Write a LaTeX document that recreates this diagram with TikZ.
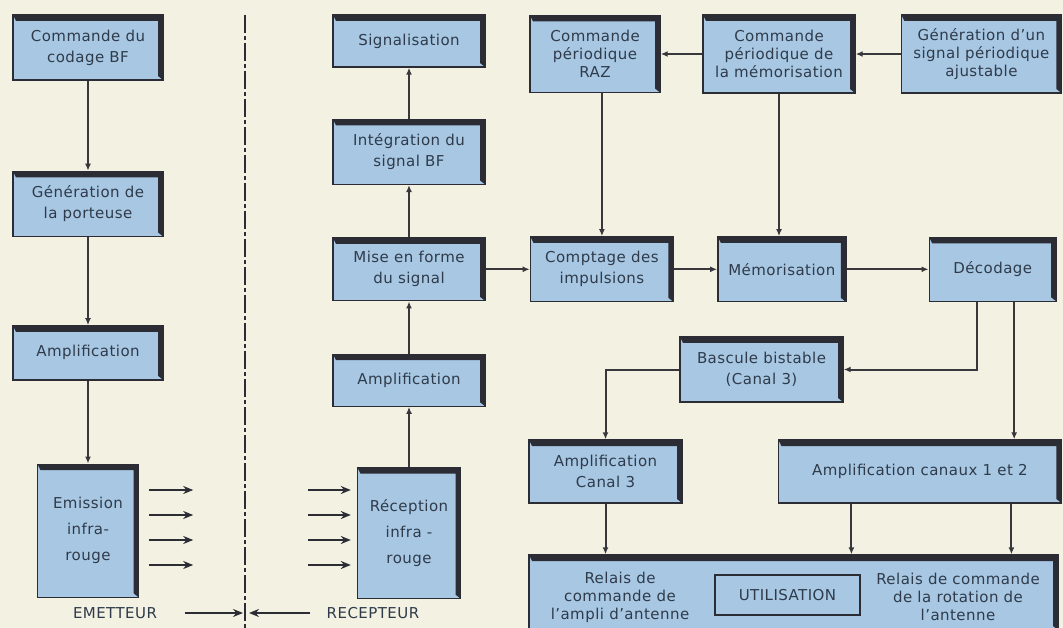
\documentclass[tikz,border=0pt]{standalone}
\usepackage{fontspec}
\setmainfont{DejaVu Sans}[LetterSpace=3]
\usepackage{xcolor}
\usetikzlibrary{arrows.meta,positioning}

\definecolor{papier}{HTML}{F2F1E2}
\definecolor{bleu}{HTML}{A7C7E3}
\definecolor{bord}{HTML}{2C2C34}
\definecolor{encre}{HTML}{2F3B4A}
\definecolor{trait}{HTML}{38383C}

\begin{document}
\begin{tikzpicture}[x=1pt,y=-1pt,node distance=50pt,
  bloc/.style={draw=bord,line width=1.4pt,fill=bleu,align=center,inner sep=2pt,
    text=encre,font=\fontsize{15}{21}\selectfont,
    path picture={
      \fill[bord] (path picture bounding box.north west)
        -- (path picture bounding box.north east)
        -- (path picture bounding box.south east)
        -- ([shift={(-5pt,4pt)}]path picture bounding box.south east)
        -- ([shift={(-5pt,-6pt)}]path picture bounding box.north east)
        -- ([shift={(3pt,-6pt)}]path picture bounding box.north west) -- cycle;}},
  serre/.style={font=\fontsize{15}{18}\selectfont},
  haut/.style={font=\fontsize{15}{26}\selectfont},
  texte/.style={text=encre,align=center,font=\fontsize{15}{19}\selectfont},
  fleche/.style={draw=trait,line width=2pt,-{Latex[length=7pt,width=6pt]}},
  rayon/.style={draw=bord,line width=2pt,-{Stealth[length=10pt,width=8pt]}},
  mixte/.style={draw=bord,line width=1.2pt,dash pattern=on 18pt off 3pt on 4pt off 3pt}]

  \fill[papier] (0,0) rectangle (1063,628);
  \useasboundingbox (0,0) rectangle (1063,628);

  % emetteur
  \node[bloc,minimum width=150pt,minimum height=65pt] (codage) at (88,47.5) {Commande du\\codage BF};
  \node[bloc,minimum width=150pt,minimum height=65pt,below=90pt of codage] (porteuse) {Génération de\\la porteuse};
  \node[bloc,minimum width=150pt,minimum height=54pt,below=88pt of porteuse] (amplie) {Amplification};
  \node[bloc,haut,minimum width=101pt,minimum height=133pt,below=83pt of amplie] (emission) {Emission\\infra-\\rouge};

  % recepteur
  \node[bloc,minimum width=152pt,minimum height=52pt] (signal) at (409,41) {Signalisation};
  \node[bloc,minimum width=152pt,minimum height=65pt,below=51pt of signal] (integration) {Intégration du\\signal BF};
  \node[bloc,minimum width=152pt,minimum height=63pt,below=52pt of integration] (miseforme) {Mise en forme\\du signal};
  \node[bloc,minimum width=152pt,minimum height=52pt,below=52pt of miseforme] (ampliR) {Amplification};
  \node[bloc,haut,minimum width=103pt,minimum height=131pt,below=60pt of ampliR] (reception) {Réception\\infra -\\rouge};

  % comptage et memoire
  \node[bloc,serre,minimum width=130pt,minimum height=77pt] (raz) at (595,54) {Commande\\périodique\\RAZ};
  \node[bloc,minimum width=143pt,minimum height=65pt,right=44pt of miseforme] (comptage) {Comptage des\\impulsions};
  \node[bloc,minimum width=128pt,minimum height=65pt,right=43pt of comptage] (memorisation) {Mémorisation};
  \node[bloc,minimum width=127pt,minimum height=64pt,right=82pt of memorisation] (decodage) {Décodage};
  \node[bloc,serre,minimum width=152pt,minimum height=78pt] (memcmd) at (779,54) {Commande\\périodique de\\la mémorisation};
  \node[bloc,serre,minimum width=160pt,minimum height=78pt,right=45pt of memcmd] (generation) {Génération d'un\\signal périodique\\ajustable};

  % sorties
  \node[bloc,minimum width=163pt,minimum height=65pt] (bascule) at (761.5,369.5) {Bascule bistable\\(Canal 3)};
  \node[bloc,minimum width=153pt,minimum height=63pt] (amplicanal3) at (605.5,471.5) {Amplification\\Canal 3};
  \node[bloc,minimum width=283pt,minimum height=63pt,right=95pt of amplicanal3] (amplicanaux) {Amplification canaux 1 et 2};
  \node[bloc,minimum width=529pt,minimum height=75pt] (relais) at (793.5,592.5) {};
  \node[texte,serre] (relaisampli) at (620,597) {Relais de\\commande de\\l'ampli d'antenne};
  \node[texte,serre] (relaisrotation) at (958,597) {Relais de commande\\de la rotation de\\l'antenne};
  \node[draw=bord,line width=1.8pt,text=encre,font=\fontsize{15}{19}\selectfont,
    minimum width=145pt,minimum height=40pt] (utilisation) at (787.5,595) {UTILISATION};

  % liaisons
  \draw[fleche] (codage) -- (porteuse);
  \draw[fleche] (porteuse) -- (amplie);
  \draw[fleche] (amplie) -- (emission);
  \draw[fleche] (reception) -- (ampliR);
  \draw[fleche] (ampliR) -- (miseforme);
  \draw[fleche] (miseforme) -- (integration);
  \draw[fleche] (integration) -- (signal);
  \draw[fleche] (miseforme) -- (comptage);
  \draw[fleche] (comptage) -- (memorisation);
  \draw[fleche] (memorisation) -- (decodage);
  \draw[fleche] (generation) -- (memcmd);
  \draw[fleche] (memcmd) -- (raz);
  \draw[fleche] (raz.south -| comptage) -- (comptage);
  \draw[fleche] (memcmd) -- (memcmd |- memorisation.north);
  \coordinate (d1) at ([xshift=-15.5pt]decodage.south);
  \coordinate (d2) at ([xshift=21.5pt]decodage.south);
  \draw[fleche] (d1) |- (bascule);
  \draw[fleche] (d2) -- (d2 |- amplicanaux.north);
  \draw[fleche] (bascule) -| (amplicanal3);
  \draw[fleche] (amplicanal3) -- (amplicanal3 |- relais.north);
  \coordinate (c1) at ([xshift=-68.5pt]amplicanaux.south);
  \coordinate (c2) at ([xshift=91.5pt]amplicanaux.south);
  \draw[fleche] (c1) -- (c1 |- relais.north);
  \draw[fleche] (c2) -- (c2 |- relais.north);

  % liaison infrarouge
  \foreach \y in {490,515,540,565} {
    \draw[rayon] (emission.east |- 0,\y) ++(10,0) -- ++(44,0);
    \draw[rayon] (reception.west |- 0,\y) ++(-49,0) -- ++(43,0);
  }
  \coordinate (frontierehaut) at (245,15);
  \coordinate (frontierebas) at (245,628);
  \draw[mixte] (frontierehaut) -- (frontierebas);
  \node[texte] (emetteur) at (115,613) {EMETTEUR};
  \node[texte] (recepteur) at (373,613) {RECEPTEUR};
  \draw[rayon,line width=1.6pt] ([xshift=24pt]emetteur.east) -- ([xshift=-2pt]emetteur -| frontierebas);
  \draw[rayon,line width=1.6pt] ([xshift=-13pt]recepteur.west) -- ([xshift=4pt]recepteur -| frontierebas);
\end{tikzpicture}
\end{document}
